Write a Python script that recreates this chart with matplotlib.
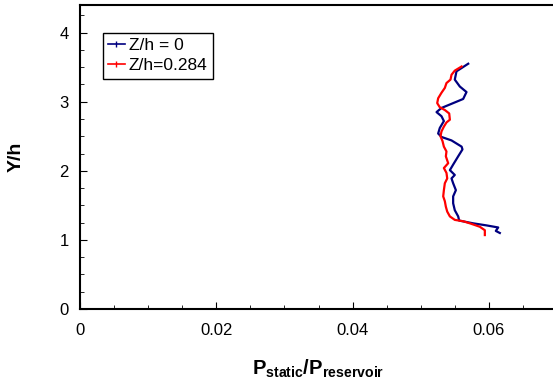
import matplotlib
matplotlib.use("Agg")
from matplotlib import pyplot as plt
from matplotlib.lines import Line2D
from matplotlib.ticker import MultipleLocator

plt.rcParams['font.family'] = ['Liberation Sans', 'DejaVu Sans']
plt.rcParams['mathtext.fontset'] = 'custom'
plt.rcParams['mathtext.rm'] = 'Liberation Sans'
plt.rcParams['mathtext.bf'] = 'Liberation Sans:bold'

# static pressure ratio profiles along Y/h
y_z0 = [3.55, 3.44, 3.32, 3.22, 3.14, 3.04, 2.97, 2.91, 2.85, 2.79, 2.72, 2.62,
        2.54, 2.49, 2.44, 2.35, 2.31, 2.21, 2.09, 2.01, 1.94, 1.89, 1.82, 1.72,
        1.63, 1.53, 1.43, 1.34, 1.28, 1.24, 1.21, 1.18, 1.13, 1.10]
p_z0 = [0.05697, 0.05525, 0.0550, 0.05574, 0.05672, 0.05623, 0.05452, 0.05305,
        0.05232, 0.05305, 0.0534, 0.0528, 0.05256, 0.05305, 0.05452, 0.0560,
        0.05613, 0.0555, 0.05476, 0.05428, 0.0550, 0.05452, 0.05476, 0.05516,
        0.05476, 0.05476, 0.0550, 0.0555, 0.05564, 0.0577, 0.05966, 0.06137,
        0.06102, 0.06161]

y_z284 = [3.51, 3.45, 3.39, 3.32, 3.27, 3.20, 3.13, 3.05, 2.98, 2.92, 2.88, 2.83,
          2.74, 2.70, 2.64, 2.57, 2.50, 2.43, 2.35, 2.28, 2.21, 2.11, 2.04, 1.97,
          1.89, 1.82, 1.72, 1.63, 1.56, 1.48, 1.41, 1.34, 1.29, 1.27, 1.24, 1.19,
          1.14, 1.07]
p_z284 = [0.0560, 0.0550, 0.05452, 0.05437, 0.05378, 0.05354, 0.05305, 0.05256,
          0.05242, 0.0528, 0.05354, 0.05418, 0.05428, 0.05378, 0.0534, 0.05305,
          0.0529, 0.0532, 0.0534, 0.05378, 0.05369, 0.05403, 0.0534, 0.05378,
          0.05389, 0.05354, 0.0534, 0.0533, 0.05354, 0.05369, 0.05389, 0.05428,
          0.0550, 0.05623, 0.05721, 0.05868, 0.05941, 0.05941]

blue = '#000080'
red = '#ff0000'

fig = plt.figure(figsize=(5.53, 3.81), dpi=100)
ax = fig.add_axes([80 / 553, 72 / 381, 477 / 553, 304 / 381])

ax.plot(p_z0, y_z0, color=blue, lw=1.6)
ax.plot(p_z284, y_z284, color=red, lw=1.6)

ax.set_xlim(0, 0.07)
ax.set_ylim(0, 4.4)
ax.set_xticks([0, 0.02, 0.04, 0.06])
ax.set_xticklabels(['0', '0.02', '0.04', '0.06'])
ax.xaxis.set_minor_locator(MultipleLocator(0.005))
ax.yaxis.set_major_locator(MultipleLocator(1))
ax.yaxis.set_minor_locator(MultipleLocator(0.25))
ax.tick_params(which='both', direction='in', labelsize=12)
ax.tick_params(axis='x', which='major', length=5, pad=10)
ax.tick_params(axis='y', which='major', length=5, pad=8)
ax.tick_params(which='minor', length=3)
for s in ax.spines.values():
    s.set_linewidth(1.5)

ax.set_xlabel(r'$\mathbf{P_{static}/P_{reservoir}}$', fontsize=14.5, labelpad=14)
ax.set_ylabel('Y/h', fontsize=14, fontweight='bold', labelpad=25)

# legend keys: short line with a small tick in the middle
handles = [Line2D([], [], color=blue, lw=1.2, marker='|', ms=4, mew=1.0),
           Line2D([], [], color=red, lw=1.2, marker='|', ms=4, mew=1.0)]
leg = ax.legend(handles, ['Z/h = 0', 'Z/h=0.284'], loc='upper left',
                bbox_to_anchor=(0.048, 0.908), fontsize=12.5,
                handlelength=0.95, handletextpad=0.25, borderpad=0.3,
                labelspacing=0.28, borderaxespad=0, fancybox=False,
                framealpha=1)
leg.get_frame().set_edgecolor('black')
leg.get_frame().set_linewidth(1.0)

fig.savefig('out.png', dpi=100)
